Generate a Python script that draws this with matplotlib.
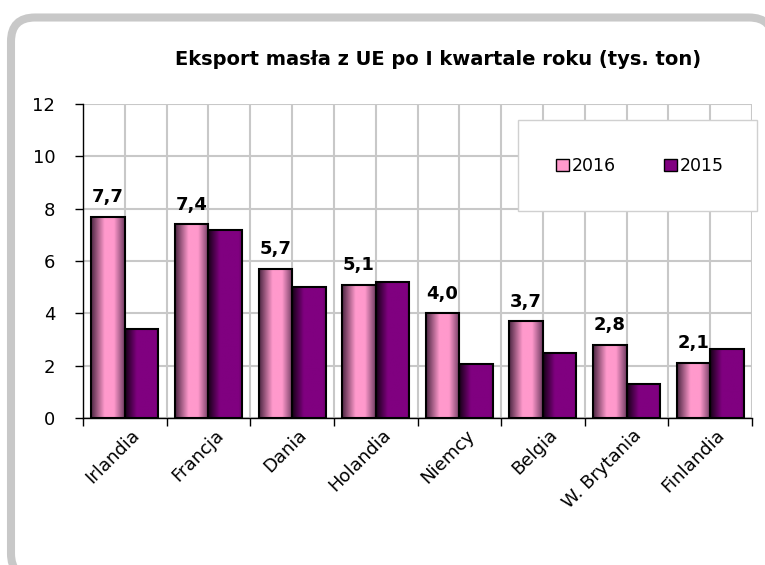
import numpy as np
import matplotlib.pyplot as plt
import matplotlib.transforms as mtransforms
from matplotlib.colors import LinearSegmentedColormap
from matplotlib.patches import FancyBboxPatch, Rectangle, Patch

# ==========================================
# Data
# ==========================================
countries = ["Irlandia", "Francja", "Dania", "Holandia", "Niemcy", "Belgia",
             "W. Brytania", "Finlandia"]
export_2016 = [7.7, 7.4, 5.7, 5.1, 4.0, 3.7, 2.8, 2.1]
export_2015 = [3.4, 7.2, 5.0, 5.2, 2.05, 2.5, 1.3, 2.65]
series_labels = ["2016", "2015"]
yticks = [0, 2, 4, 6, 8, 10, 12]
title = "Eksport masła z UE po I kwartale roku (tys. ton)"
# ==========================================

W, H = 765, 565
PINK = "#ff99cc"
PURPLE = "#800080"

cmap_pink = LinearSegmentedColormap.from_list(
    "pink", [(0.0, "#4a2440"), (0.4, PINK), (0.68, PINK), (1.0, "#6e3a60")])
cmap_purple = LinearSegmentedColormap.from_list(
    "purple", [(0.0, "#140014"), (0.35, PURPLE), (0.9, PURPLE), (1.0, "#6a006a")])

fig = plt.figure(figsize=(W / 100, H / 100), dpi=100)

# rounded outer frame (right and bottom edges run off the picture)
bg = fig.add_axes([0, 0, 1, 1])
bg.set_xlim(0, W)
bg.set_ylim(H, 0)
bg.axis("off")
bg.add_patch(FancyBboxPatch((11, 17.5), 762, 560,
                            boxstyle="round,pad=0,rounding_size=24",
                            fc="white", ec="#c8c8c8", lw=5.8))

ax = fig.add_axes([83 / W, 1 - 418 / H, 669 / W, 314 / H])
ax.set_facecolor("white")

x = np.arange(len(countries))
w = 0.4


def gradient_bars(bars, cmap):
    grad = np.linspace(0, 1, 256).reshape(1, -1)
    for b in bars:
        x0, w0, h0 = b.get_x(), b.get_width(), b.get_height()
        im = ax.imshow(grad, cmap=cmap, extent=[x0, x0 + w0, 0, h0],
                       aspect="auto", interpolation="bilinear", zorder=2.5)
        im.set_clip_path(b)


b16 = ax.bar(x - w / 2, export_2016, w, facecolor="none", edgecolor="black",
             linewidth=1.5, zorder=3)
b15 = ax.bar(x + w / 2, export_2015, w, facecolor="none", edgecolor="black",
             linewidth=1.5, zorder=3)
gradient_bars(b16, cmap_pink)
gradient_bars(b15, cmap_purple)

for b, v in zip(b16, export_2016):
    ax.annotate(f"{v:.1f}".replace(".", ","), (b.get_x() + b.get_width() / 2, v),
                xytext=(0, 10.5), textcoords="offset points", ha="center",
                va="baseline", fontsize=13, fontweight="bold", zorder=6)

ax.set_xlim(-0.5, len(countries) - 0.5)
ax.set_ylim(0, 12)
ax.set_yticks(yticks)
ax.set_xticks(x)
ax.set_xticks(np.arange(-0.5, len(countries), 1), minor=True)
ax.tick_params(axis="x", which="major", length=0, pad=14)
ax.tick_params(axis="x", which="minor", length=6, width=1, color="black")
ax.tick_params(axis="y", length=6, width=1, pad=14, labelsize=13)

ax.set_xticklabels(countries, rotation=45, ha="right", va="center",
                   rotation_mode="anchor", fontsize=13)
# nudge the slanted labels right/up like the original
shift = mtransforms.ScaledTranslation(0.12, 0.05, fig.dpi_scale_trans)
for lab in ax.get_xticklabels():
    lab.set_transform(lab.get_transform() + shift)

ax.set_axisbelow(True)
ax.grid(axis="x", which="both", color="#c8c8c8", linewidth=1.5)
ax.grid(axis="y", which="major", color="#c8c8c8", linewidth=1.5)
for s in ["top", "right"]:
    ax.spines[s].set_visible(False)
for s in ["left", "bottom"]:
    ax.spines[s].set_linewidth(1.0)
    ax.spines[s].set_zorder(4)

# legend box
ax.add_patch(Rectangle((0.650, 0.659), 0.3575, 0.29, transform=ax.transAxes,
                       fc="white", ec="#d0d0d0", lw=1, clip_on=False, zorder=4))
handles = [Patch(fc=PINK, ec="black", lw=1), Patch(fc=PURPLE, ec="black", lw=1)]
leg = ax.legend(handles, series_labels, loc="center", bbox_to_anchor=(0.8326, 0.8025),
                ncol=2, frameon=False, fontsize=12.5, handlelength=0.75,
                handleheight=0.75, handletextpad=0.15, columnspacing=2.8)
leg.set_zorder(5)

fig.text(438 / W, 1 - 60 / H, title, ha="center", va="center",
         fontsize=14, fontweight="bold")

fig.savefig("out.png", dpi=100)
